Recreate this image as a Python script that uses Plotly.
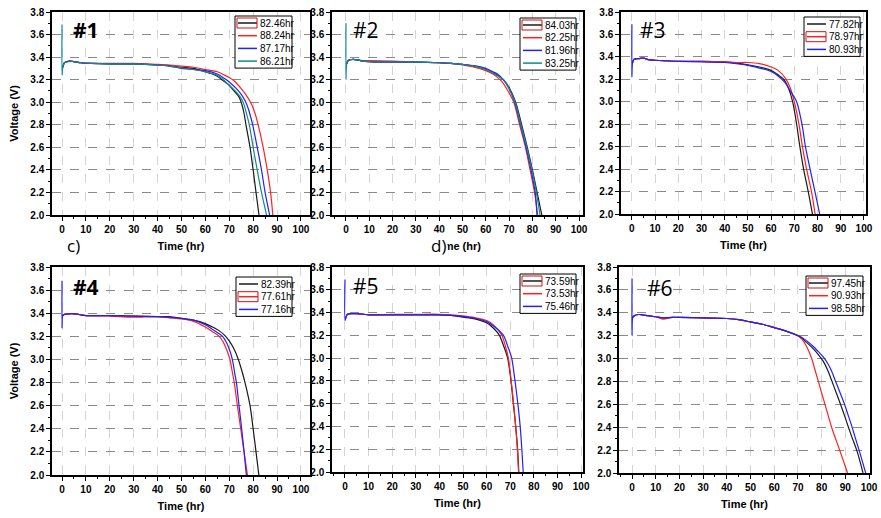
#!/usr/bin/env python3
'''Discharge curves (voltage vs time) for six cell groups, #1 .. #6.'''

import plotly.graph_objs as go

# ---- data --------------------------------------------------------------
P1_LABELS = ['82.46hr', '88.24hr', '87.17hr', '86.21hr']
P1_TIME = [
    [0.3, 1, 3, 5, 8, 12, 20, 30, 40, 45, 50, 55, 60, 63, 65, 67.5, 70, 72, 74, 75.3, 76.2, 77, 78.7, 80, 81.2, 82.46],
    [0.3, 1, 3, 5, 8, 12, 20, 30, 40, 45, 50, 55, 60, 65, 68, 70, 72, 75, 77.5, 79.4, 80.8, 82.1, 84.2, 85.9, 87.3, 88.24],
    [0.3, 1, 3, 5, 8, 12, 20, 30, 40, 45, 50, 55, 60, 65, 68, 70, 73, 75, 76.7, 78, 79.8, 81.7, 83.5, 85, 86.9],
    [0, 0, 0.3, 1, 3, 5, 8, 12, 20, 30, 40, 45, 50, 55, 60, 65, 68, 70, 72.5, 74.5, 76, 77.2, 78.4, 80, 81.7, 83.5, 85.6],
]
P1_VOLT = [
    [3.31, 3.35, 3.365, 3.36, 3.35, 3.345, 3.34, 3.34, 3.33, 3.325, 3.31, 3.30, 3.27, 3.25, 3.23, 3.19, 3.15, 3.10, 3.05, 2.98, 2.9, 2.8, 2.6, 2.4, 2.2, 2.0],
    [3.31, 3.35, 3.365, 3.36, 3.35, 3.345, 3.345, 3.345, 3.335, 3.33, 3.32, 3.31, 3.29, 3.27, 3.24, 3.22, 3.19, 3.12, 3.05, 2.98, 2.9, 2.8, 2.6, 2.4, 2.2, 2.0],
    [3.31, 3.35, 3.365, 3.36, 3.35, 3.345, 3.34, 3.34, 3.33, 3.32, 3.30, 3.29, 3.28, 3.25, 3.21, 3.18, 3.12, 3.07, 3.01, 2.94, 2.8, 2.6, 2.4, 2.2, 2.0],
    [3.69, 3.24, 3.31, 3.35, 3.36, 3.36, 3.35, 3.345, 3.34, 3.34, 3.33, 3.32, 3.305, 3.29, 3.27, 3.24, 3.19, 3.15, 3.1, 3.05, 2.99, 2.9, 2.8, 2.6, 2.4, 2.2, 2.0],
]

P2_LABELS = ['84.03hr', '82.25hr', '81.96hr', '83.25hr']
P2_TIME = [
    [0.3, 1, 3, 5, 7, 10, 20, 30, 40, 45, 50, 55, 60, 63, 65, 68, 70, 72.8, 75.4, 77.8, 80, 82, 84.03],
    [0.3, 1, 3, 5, 7, 10, 20, 30, 40, 45, 50, 55, 60, 63, 65, 67, 69.5, 72, 74.5, 77, 79, 80.9, 82.25],
    [0.3, 1, 3, 5, 7, 10, 20, 30, 40, 45, 50, 55, 60, 63, 65, 67.5, 70, 72.4, 74.9, 77.3, 79.4, 81.2, 81.96],
    [0, 0, 0.3, 1, 3, 5, 7, 10, 20, 30, 40, 45, 50, 55, 60, 63, 65, 67.6, 70, 72.6, 75.1, 77.6, 79.8, 81.7, 83.25],
]
P2_VOLT = [
    [3.34, 3.37, 3.38, 3.375, 3.365, 3.36, 3.355, 3.355, 3.35, 3.345, 3.335, 3.32, 3.29, 3.265, 3.24, 3.19, 3.13, 3.0, 2.8, 2.6, 2.4, 2.2, 2.0],
    [3.34, 3.37, 3.38, 3.375, 3.37, 3.37, 3.365, 3.355, 3.35, 3.345, 3.33, 3.31, 3.28, 3.25, 3.22, 3.18, 3.1, 3.0, 2.8, 2.6, 2.4, 2.2, 2.0],
    [3.34, 3.37, 3.38, 3.375, 3.365, 3.36, 3.355, 3.355, 3.35, 3.345, 3.335, 3.325, 3.30, 3.27, 3.25, 3.2, 3.12, 3.0, 2.8, 2.6, 2.4, 2.2, 2.0],
    [3.7, 3.2, 3.34, 3.37, 3.38, 3.375, 3.365, 3.36, 3.355, 3.355, 3.35, 3.345, 3.335, 3.32, 3.29, 3.26, 3.235, 3.2, 3.12, 3.0, 2.8, 2.6, 2.4, 2.2, 2.0],
]

P3_LABELS = ['77.82hr', '78.97hr', '80.93hr']
P3_TIME = [
    [0.3, 1, 3, 5, 7, 10, 20, 30, 40, 45, 50, 55, 60, 63, 65.5, 67.5, 69.3, 71, 72.4, 74, 76, 77.82],
    [0.3, 1, 3, 5, 7, 10, 20, 30, 40, 45, 50, 55, 60, 63, 66.5, 68.3, 70, 72, 73.5, 75.3, 77.4, 78.97],
    [0, 0, 0.3, 1, 3, 5, 7, 10, 20, 30, 40, 45, 50, 55, 60, 63, 66, 68.5, 71, 73.3, 74.8, 76.8, 78.9, 80.93],
]
P3_VOLT = [
    [3.35, 3.38, 3.385, 3.39, 3.375, 3.37, 3.36, 3.36, 3.355, 3.345, 3.33, 3.31, 3.28, 3.24, 3.2, 3.12, 3.0, 2.8, 2.6, 2.4, 2.2, 2.0],
    [3.35, 3.38, 3.385, 3.39, 3.375, 3.37, 3.36, 3.36, 3.355, 3.35, 3.35, 3.34, 3.31, 3.28, 3.2, 3.12, 3.0, 2.8, 2.6, 2.4, 2.2, 2.0],
    [3.69, 3.22, 3.35, 3.38, 3.385, 3.39, 3.375, 3.37, 3.36, 3.355, 3.35, 3.34, 3.325, 3.30, 3.27, 3.23, 3.17, 3.09, 3.0, 2.8, 2.6, 2.4, 2.2, 2.0],
]

P4_LABELS = ['82.39hr', '77.61hr', '77.16hr']
P4_TIME = [
    [0.3, 1, 3, 5, 8, 10, 20, 30, 40, 45, 50, 55, 60, 63, 66, 68, 70, 72, 73.8, 75.3, 76.6, 78.7, 80, 81.2, 82.39],
    [0.3, 1, 3, 5, 8, 10, 20, 30, 40, 45, 50, 55, 60, 63, 65.8, 67.5, 69, 70.3, 71.2, 72.1, 73.4, 74.8, 76.2, 77.61],
    [0, 0, 0.3, 1, 3, 5, 8, 10, 20, 30, 40, 45, 50, 55, 60, 63, 67.2, 69, 70.5, 71.5, 72.3, 73, 74.1, 75.2, 76.2, 77.16],
]
P4_VOLT = [
    [3.38, 3.39, 3.395, 3.395, 3.385, 3.38, 3.38, 3.375, 3.37, 3.37, 3.355, 3.34, 3.31, 3.28, 3.245, 3.21, 3.16, 3.09, 3.0, 2.9, 2.8, 2.6, 2.4, 2.2, 2.0],
    [3.38, 3.39, 3.395, 3.395, 3.385, 3.38, 3.375, 3.365, 3.37, 3.36, 3.35, 3.33, 3.28, 3.24, 3.2, 3.15, 3.08, 3.0, 2.9, 2.8, 2.6, 2.4, 2.2, 2.0],
    [3.68, 3.27, 3.38, 3.39, 3.395, 3.395, 3.385, 3.38, 3.38, 3.375, 3.37, 3.365, 3.355, 3.34, 3.30, 3.26, 3.2, 3.14, 3.06, 2.98, 2.88, 2.8, 2.6, 2.4, 2.2, 2.0],
]

P5_LABELS = ['73.59hr', '73.53hr', '75.46hr']
P5_TIME = [
    [0.3, 1, 3, 5, 8, 10, 20, 30, 40, 45, 50, 55, 60, 63, 65.4, 67.3, 68.9, 70.3, 71.3, 72.3, 73.1, 73.59],
    [0.3, 1, 3, 5, 8, 10, 20, 30, 40, 45, 50, 55, 60, 63, 66.4, 68, 69.2, 70.4, 71.4, 72.3, 73, 73.53],
    [0, 0, 0.3, 1, 3, 5, 8, 10, 20, 30, 40, 45, 50, 55, 60, 63, 67.1, 69, 70.6, 72, 73.2, 74.2, 74.9, 75.46],
]
P5_VOLT = [
    [3.35, 3.385, 3.39, 3.39, 3.385, 3.38, 3.38, 3.38, 3.38, 3.375, 3.36, 3.345, 3.31, 3.26, 3.2, 3.1, 3.0, 2.8, 2.6, 2.4, 2.2, 2.0],
    [3.35, 3.385, 3.39, 3.39, 3.385, 3.38, 3.385, 3.385, 3.385, 3.38, 3.37, 3.355, 3.33, 3.29, 3.2, 3.1, 3.0, 2.8, 2.6, 2.4, 2.2, 2.0],
    [3.69, 3.33, 3.35, 3.385, 3.39, 3.39, 3.385, 3.38, 3.38, 3.38, 3.38, 3.375, 3.365, 3.35, 3.32, 3.28, 3.2, 3.1, 3.0, 2.8, 2.6, 2.4, 2.2, 2.0],
]

P6_LABELS = ['97.45hr', '90.93hr', '98.58hr']
P6_TIME = [
    [0.3, 1, 3, 5, 8, 10, 13, 17, 20, 30, 40, 45, 50, 55, 60, 65, 70, 72, 74, 76.5, 78.6, 80.7, 82.5, 84.2, 86, 87.8, 89.5, 91.3, 93, 94.8, 96.2, 97.45],
    [0.3, 1, 3, 5, 8, 10, 13, 17, 20, 30, 40, 45, 50, 55, 60, 65, 70, 72, 74, 75.8, 77.2, 78.6, 81.4, 84.2, 87.6, 90.93],
    [0, 0, 0.3, 1, 3, 5, 8, 10, 13, 17, 20, 30, 40, 45, 50, 55, 60, 65, 70, 72, 74, 76.5, 78.6, 80.5, 82.2, 84, 85.7, 87.6, 89.5, 91.1, 92.7, 94.3, 95.8, 97.2, 98.58],
]
P6_VOLT = [
    [3.36, 3.375, 3.385, 3.38, 3.37, 3.365, 3.355, 3.36, 3.36, 3.355, 3.35, 3.34, 3.32, 3.30, 3.27, 3.24, 3.2, 3.17, 3.135, 3.085, 3.035, 2.975, 2.9, 2.81, 2.71, 2.61, 2.51, 2.4, 2.3, 2.2, 2.1, 2.0],
    [3.36, 3.375, 3.385, 3.38, 3.37, 3.365, 3.345, 3.36, 3.36, 3.355, 3.35, 3.34, 3.32, 3.30, 3.27, 3.24, 3.2, 3.16, 3.09, 3.0, 2.9, 2.8, 2.6, 2.4, 2.2, 2.0],
    [3.7, 3.2, 3.36, 3.375, 3.385, 3.38, 3.37, 3.365, 3.355, 3.36, 3.36, 3.355, 3.35, 3.34, 3.32, 3.30, 3.27, 3.24, 3.2, 3.18, 3.15, 3.105, 3.06, 3.02, 2.97, 2.9, 2.81, 2.71, 2.61, 2.51, 2.41, 2.3, 2.2, 2.1, 2.0],
]

COLORS4 = ['#1a1a1a', '#ff2020', '#2020ff', '#108a8a']
COLORS3 = ['#1a1a1a', '#ff2020', '#2020ff']

FONT = 'Liberation Sans'
W, H = 881, 518


def px_x(p):
    return p / W


def px_y(p):
    return 1 - p / H


# panel layout in pixels:
# (left, right, top, bottom, xmin, xmax, legend left, legend right, legend top,
#  marked legend entry, tag x, tag y)
PANELS = [
    (52, 310, 12, 215, -4.2, 103.8, 235, 292, 16, 0, 86, 30),
    (332, 583, 12, 215, -6.0, 101.7, 520, 576, 18, 0, 366, 30),
    (621, 866, 12, 214, -4.7, 100.9, 804, 860, 17, 1, 653, 30),
    (52, 310, 267, 475, -4.2, 103.8, 236, 292, 277, 1, 86, 287),
    (332, 583, 267, 472, -5.5, 100.8, 520, 576, 274, 0, 366, 286),
    (619, 870, 267, 473, -5.5, 100.4, 806, 863, 276, 0, 660, 288),
]

SERIES = [
    (P1_TIME, P1_VOLT, P1_LABELS, COLORS4),
    (P2_TIME, P2_VOLT, P2_LABELS, COLORS4),
    (P3_TIME, P3_VOLT, P3_LABELS, COLORS3),
    (P4_TIME, P4_VOLT, P4_LABELS, COLORS3),
    (P5_TIME, P5_VOLT, P5_LABELS, COLORS3),
    (P6_TIME, P6_VOLT, P6_LABELS, COLORS3),
]

ROW_H = 12.7  # legend row height, px


def x_axis(dom, rng, anchor):
    return dict(
        domain=dom, range=rng, anchor=anchor, automargin=False,
        tickmode='linear', tick0=0, dtick=10,
        ticks='outside', ticklen=4, tickwidth=1.2, tickcolor='black',
        showline=True, linecolor='black', linewidth=1.5, mirror=True,
        showgrid=True, gridcolor='#d4d4d4', griddash='dash', gridwidth=1,
        zeroline=False,
        tickfont=dict(family=FONT, size=10, color='black', weight='bold'),
        title=dict(text='Time (hr)', standoff=9,
                   font=dict(family=FONT, size=11, color='black', weight='bold')),
        minor=dict(ticks='outside', ticklen=2, dtick=5, tick0=0,
                   tickcolor='black', showgrid=False),
    )


def y_axis(dom, anchor, title):
    return dict(
        domain=dom, range=[2.0, 3.8], anchor=anchor, automargin=False,
        tickmode='linear', tick0=2.0, dtick=0.2, tickformat='.1f',
        ticks='outside', ticklen=4, tickwidth=1.2, tickcolor='black',
        showline=True, linecolor='black', linewidth=1.5, mirror=True,
        showgrid=True, gridcolor='#8a8a8a', griddash='dash', gridwidth=1,
        zeroline=False,
        tickfont=dict(family=FONT, size=10, color='black', weight='bold'),
        title=dict(text=title, standoff=9,
                   font=dict(family=FONT, size=11, color='black', weight='bold')),
        minor=dict(ticks='outside', ticklen=2, dtick=0.1, tick0=2.0,
                   tickcolor='black', showgrid=False),
    )


def legend_box(left, right, top, labels, colors, marked):
    '''small Origin-style legend: boxed line keys with labels'''
    shapes, notes = [], []
    bottom = top + 7 + ROW_H * (len(labels) - 1) + 7
    shapes.append(dict(type='rect', xref='paper', yref='paper',
                       x0=px_x(left), x1=px_x(right), y0=px_y(bottom), y1=px_y(top),
                       line=dict(color='black', width=1), fillcolor='white', layer='above'))
    for k, (lab, col) in enumerate(zip(labels, colors)):
        yc = top + 7 + ROW_H * k
        shapes.append(dict(type='line', xref='paper', yref='paper',
                           x0=px_x(left + 3), x1=px_x(left + 22), y0=px_y(yc), y1=px_y(yc),
                           line=dict(color=col, width=1.5), layer='above'))
        if k == marked:
            shapes.append(dict(type='rect', xref='paper', yref='paper',
                               x0=px_x(left + 2), x1=px_x(left + 22),
                               y0=px_y(yc + 5), y1=px_y(yc - 5),
                               line=dict(color='#d01010', width=1), layer='above'))
        notes.append(dict(text=lab, xref='paper', yref='paper',
                          x=px_x(left + 23), y=px_y(yc), xanchor='left', yanchor='middle',
                          showarrow=False,
                          font=dict(family=FONT, size=10, color='black')))
    return shapes, notes


def build():
    fig = go.Figure()
    layout = dict(
        width=W, height=H, autosize=False,
        margin=dict(l=0, r=0, t=0, b=0, pad=0),
        paper_bgcolor='white', plot_bgcolor='white',
        font=dict(family=FONT, color='black'),
        showlegend=False,
    )
    annotations, shapes = [], []
    for i, (panel, series) in enumerate(zip(PANELS, SERIES)):
        (left, right, top, bottom, xmin, xmax,
         lg_l, lg_r, lg_t, marked, tag_x, tag_y) = panel
        n = '' if i == 0 else str(i + 1)
        xa, ya = 'x' + n, 'y' + n
        times, volts, labels, colors = series
        for t, v, lab, col in zip(times, volts, labels, colors):
            fig.add_trace(go.Scatter(
                x=t, y=v, name=lab, mode='lines',
                line=dict(color=col, width=1.2, shape='spline', smoothing=0.8),
                xaxis=xa, yaxis=ya, showlegend=False,
            ))
        layout['xaxis' + n] = x_axis([px_x(left), px_x(right)], [xmin, xmax], ya)
        ytitle = 'Voltage (V)' if i in (0, 3) else ''
        layout['yaxis' + n] = y_axis([px_y(bottom), px_y(top)], xa, ytitle)
        s, a = legend_box(lg_l, lg_r, lg_t, labels, colors, marked)
        shapes += s
        annotations += a
        annotations.append(dict(
            text='#%d' % (i + 1), xref='paper', yref='paper',
            x=px_x(tag_x), y=px_y(tag_y), xanchor='center', yanchor='middle',
            showarrow=False,
            font=dict(family='Open Sans', size=21, color='black',
                      weight='bold' if i in (0, 3) else 'normal'),
        ))
    # sub-figure letters left over from the source figure
    annotations.append(dict(
        text='c)', xref='paper', yref='paper', x=px_x(73), y=px_y(246),
        xanchor='center', yanchor='middle',
        showarrow=False, font=dict(family='Open Sans', size=17, color='black'),
    ))
    annotations.append(dict(
        text='d)', xref='paper', yref='paper', x=px_x(438), y=px_y(246),
        xanchor='center', yanchor='middle',
        showarrow=False, bgcolor='white', borderpad=1,
        font=dict(family='Open Sans', size=17, color='black'),
    ))
    layout['annotations'] = annotations
    layout['shapes'] = shapes
    fig.update_layout(**layout)
    return fig


def main():
    fig = build()
    fig.write_html('out.html', config={'displayModeBar': False},
                   post_script="document.body.style.margin='0';")


if __name__ == '__main__':
    main()
